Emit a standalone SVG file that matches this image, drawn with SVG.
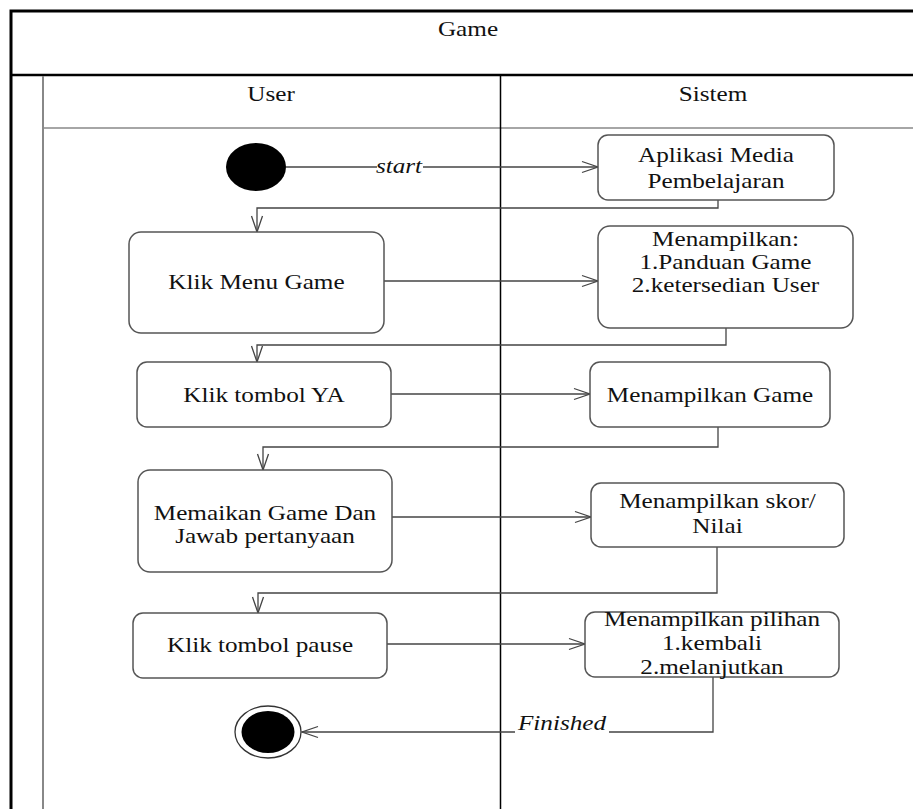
<svg xmlns="http://www.w3.org/2000/svg" width="913" height="809" viewBox="0 0 913 809">
  <style>
    .bg { fill: #fff; }
    .frame { fill: none; stroke: #000; }
    .lane { fill: none; stroke: #888; }
    .box { fill: #fff; stroke: #555; stroke-width: 1.5; }
    .flow { fill: none; stroke: #444; stroke-width: 1.3; }
    .t { font-family: "Liberation Serif", "Times New Roman", serif; font-size: 21px; fill: #111; text-anchor: middle; }
    .it { font-style: italic; }
    .mask { fill: #fff; }
  </style>
  <defs>
    <marker id="open" markerUnits="userSpaceOnUse" viewBox="-18 -8 20 16" markerWidth="20" markerHeight="16" refX="0" refY="0" orient="auto">
      <path d="M -16 -5.5 L 0 0 L -16 5.5" fill="none" stroke="#444" stroke-width="1.3"/>
    </marker>
  </defs>

  <rect class="bg" x="0" y="0" width="913" height="809"/>

  <!-- swimlane frame -->
  <g id="swimlanes">
    <path class="frame" d="M 11 809 V 11 H 913" stroke-width="3"/>
    <path class="frame" d="M 11 75 H 913" stroke-width="2.5"/>
    <path class="lane" d="M 43 76 V 809" stroke-width="2"/>
    <path class="lane" d="M 43 128 H 913" stroke-width="1.5" stroke="#666"/>
    <path class="frame" d="M 500.5 76 V 809" stroke-width="1.5"/>
    <text class="t" transform="translate(468,36) scale(1.2,1)">Game</text>
    <text class="t" transform="translate(271,101) scale(1.2,1)">User</text>
    <text class="t" transform="translate(713,101) scale(1.2,1)">Sistem</text>
  </g>

  <!-- control flow -->
  <g id="connectors">
    <path class="flow" d="M 286 167 H 598" marker-end="url(#open)"/>
    <path class="flow" d="M 718 200 V 208 H 257 V 232" marker-end="url(#open)"/>
    <path class="flow" d="M 384 281 H 598" marker-end="url(#open)"/>
    <path class="flow" d="M 726 328 V 345 H 257 V 362" marker-end="url(#open)"/>
    <path class="flow" d="M 391 394 H 590" marker-end="url(#open)"/>
    <path class="flow" d="M 718 427 V 447 H 263 V 470" marker-end="url(#open)"/>
    <path class="flow" d="M 392 517 H 591" marker-end="url(#open)"/>
    <path class="flow" d="M 717 547 V 593 H 258 V 613" marker-end="url(#open)"/>
    <path class="flow" d="M 387 644 H 585" marker-end="url(#open)"/>
    <path class="flow" d="M 713 677 V 732 H 302" marker-end="url(#open)"/>
    <rect class="mask" x="377" y="157" width="46" height="18"/>
    <text class="t it" transform="translate(399,173) scale(1.2,1)">start</text>
    <rect class="mask" x="515" y="712" width="94" height="22"/>
    <text class="t it" transform="translate(562,730) scale(1.2,1)">Finished</text>
  </g>

  <g id="start">
    <ellipse cx="256" cy="167" rx="30" ry="24" fill="#000"/>
  </g>

  <g id="aplikasi">
    <rect class="box" x="598" y="135" width="236" height="65" rx="10"/>
    <text class="t" transform="translate(716,162) scale(1.2,1)">Aplikasi Media</text>
    <text class="t" transform="translate(716,188) scale(1.2,1)">Pembelajaran</text>
  </g>

  <g id="klik-menu-game">
    <rect class="box" x="129" y="232" width="255" height="101" rx="12"/>
    <text class="t" transform="translate(256.5,289) scale(1.2,1)">Klik Menu Game</text>
  </g>

  <g id="menampilkan-panduan">
    <rect class="box" x="598" y="226" width="255" height="102" rx="12"/>
    <text class="t" transform="translate(725.5,246) scale(1.2,1)">Menampilkan:</text>
    <text class="t" transform="translate(725.5,269) scale(1.2,1)">1.Panduan Game</text>
    <text class="t" transform="translate(725.5,292) scale(1.2,1)">2.ketersedian User</text>
  </g>

  <g id="klik-ya">
    <rect class="box" x="137" y="362" width="254" height="65" rx="10"/>
    <text class="t" transform="translate(264,402) scale(1.2,1)">Klik tombol YA</text>
  </g>

  <g id="menampilkan-game">
    <rect class="box" x="590" y="362" width="240" height="65" rx="10"/>
    <text class="t" transform="translate(710,402) scale(1.2,1)">Menampilkan Game</text>
  </g>

  <g id="memainkan">
    <rect class="box" x="138" y="470" width="254" height="102" rx="12"/>
    <text class="t" transform="translate(265,520) scale(1.2,1)">Memaikan Game Dan</text>
    <text class="t" transform="translate(265,543) scale(1.2,1)">Jawab pertanyaan</text>
  </g>

  <g id="skor">
    <rect class="box" x="591" y="483" width="253" height="64" rx="10"/>
    <text class="t" transform="translate(717.5,508) scale(1.2,1)">Menampilkan skor/</text>
    <text class="t" transform="translate(717.5,533) scale(1.2,1)">Nilai</text>
  </g>

  <g id="klik-pause">
    <rect class="box" x="133" y="613" width="254" height="65" rx="10"/>
    <text class="t" transform="translate(260,652) scale(1.2,1)">Klik tombol pause</text>
  </g>

  <g id="pilihan">
    <rect class="box" x="585" y="612" width="254" height="65" rx="10"/>
    <text class="t" transform="translate(712,626) scale(1.2,1)">Menampilkan pilihan</text>
    <text class="t" transform="translate(712,650) scale(1.2,1)">1.kembali</text>
    <text class="t" transform="translate(712,674) scale(1.2,1)">2.melanjutkan</text>
  </g>

  <g id="end">
    <ellipse cx="268" cy="732" rx="33" ry="26" fill="#fff" stroke="#333" stroke-width="1.3"/>
    <ellipse cx="268" cy="732" rx="26.5" ry="21" fill="#000"/>
  </g>
</svg>
